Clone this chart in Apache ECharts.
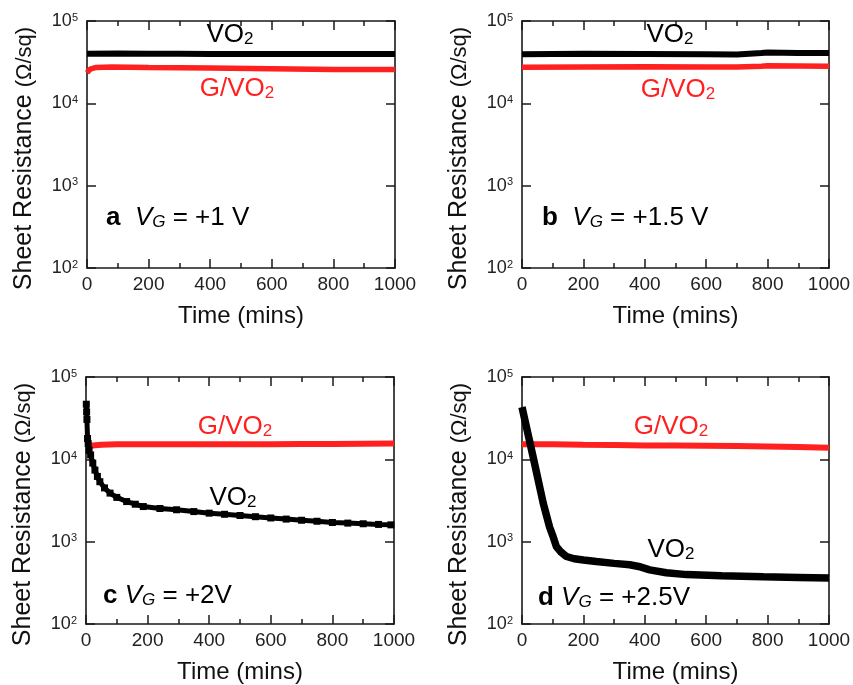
<!DOCTYPE html>
<html><head><meta charset="utf-8">
<script src="https://cdn.jsdelivr.net/npm/echarts@6/dist/echarts.min.js"></script>
<style>html,body{margin:0;padding:0;background:#fff}#c{width:853px;height:685px}</style>
</head><body><div id="c"></div>
<script>
// ---- data (time in mins, sheet resistance in ohm/sq) ----
const aVO2  = [[0,40000],[100,40200],[200,40000],[300,40000],[400,39800],[500,39800],[600,39800],[700,39800],[800,39800],[900,39800],[1000,39800]];
const aGVO2 = [[0,23500],[10,26000],[30,27300],[80,27700],[200,27300],[400,26800],[600,26300],[800,25800],[1000,25700]];
const bVO2  = [[0,39500],[200,40000],[400,39800],[600,39500],[700,39300],[780,40800],[800,41500],[900,41000],[1000,40800]];
const bGVO2 = [[0,27500],[200,27700],[400,27800],[600,27600],[700,27600],[780,28300],[800,28600],[900,28400],[1000,28200]];
const cVO2  = [[1,46700],[2,37700],[3,30500],[5,17900],[7,15600],[10,12900],[15,11300],[22,9000],[29,7400],[37,6200],[45,5350],[60,4500],[78,3890],[100,3450],[132,3070],[160,2850],[186,2670],[240,2530],[294,2440],[350,2320],[400,2220],[450,2150],[500,2080],[550,2010],[600,1940],[650,1880],[700,1820],[750,1770],[800,1710],[850,1680],[900,1650],[950,1620],[990,1600]];
const cGVO2 = [[2,14500],[50,15000],[100,15200],[200,15300],[300,15200],[400,15200],[500,15300],[600,15300],[700,15400],[800,15400],[900,15500],[1000,15600]];
const dVO2  = [[0,43000],[3,41000],[36,10800],[69,2950],[90,1500],[101,1160],[112,870],[125,760],[145,660],[170,620],[200,600],[242,575],[300,545],[351,525],[380,500],[416,455],[470,420],[536,398],[650,385],[786,374],[900,368],[1000,363]];
const dGVO2 = [[0,15300],[100,15200],[200,15000],[300,14900],[400,14700],[500,14700],[600,14600],[700,14500],[800,14300],[900,14100],[1000,13800]];

const timeMin = 0, timeMax = 1000, timeStep = 200;
const resMin = 100, resMax = 100000;
const panelLetters = ['a','b','c','d'];
const panelVoltages = ['= +1 V','= +1.5 V','= +2V','= +2.5V'];
const panelGaps = ['  ','  ',' ',' '];

const FF = '"Liberation Sans", Arial, Helvetica, sans-serif';
const AX = '#1a1a1a';
const RED = '#ff2020';

const grids = [
  {left:87, top:21, right:458, bottom:417},
  {left:522, top:21, right:24, bottom:417},
  {left:86, top:377, right:459, bottom:61},
  {left:522, top:377, right:24, bottom:61}
];

const xAxes = [], yAxes = [];
grids.forEach((g,i)=>{
  const base = {
    gridIndex:i, type:'value', min:timeMin, max:timeMax, interval:timeStep,
    axisLine:{show:true, onZero:false, lineStyle:{color:AX, width:1.6}},
    axisTick:{show:true, inside:true, length:9, lineStyle:{color:AX, width:1.5}},
    minorTick:{show:true, splitNumber:2, length:5, lineStyle:{color:AX, width:1.5}},
    splitLine:{show:false}, minorSplitLine:{show:false}
  };
  xAxes.push(Object.assign({}, base, {
    position:'bottom',
    axisLabel:{show:true, margin:7, fontSize:19, color:'#222', fontFamily:FF, showMaxLabel:true, showMinLabel:true,
      formatter: v => String(v)},
    name:'Time (mins)', nameLocation:'middle', nameGap:36,
    nameTextStyle:{fontSize:24, color:'#111', fontFamily:FF}
  }));
  xAxes.push(Object.assign({}, base, {position:'top', axisLabel:{show:false}}));
  const ybase = {
    gridIndex:i, type:'log', logBase:10, min:resMin, max:resMax,
    axisLine:{show:true, onZero:false, lineStyle:{color:AX, width:1.6}},
    axisTick:{show:true, inside:true, length:9, lineStyle:{color:AX, width:1.5}},
    minorTick:{show:false}, splitLine:{show:false}
  };
  yAxes.push(Object.assign({}, ybase, {
    position:'left',
    axisLabel:{show:true, margin:9, color:'#222', fontFamily:FF,
      formatter: v => '{b|10}{s|' + Math.round(Math.log10(v)) + '}',
      rich:{b:{fontSize:18, fontFamily:FF, color:'#222'}, s:{fontSize:11, fontFamily:FF, color:'#222', verticalAlign:'top', padding:[0,0,6,0]}}
    },
    name:'{m|Sheet Resistance }{p|(Ω/sq)}', nameLocation:'middle', nameGap:50,
    nameTextStyle:{color:'#111', fontFamily:FF, padding:[0,28,0,0],
      rich:{m:{fontSize:25, fontFamily:FF, color:'#111'}, p:{fontSize:22, fontFamily:FF, color:'#111'}}}
  }));
  yAxes.push(Object.assign({}, ybase, {position:'right', axisLabel:{show:false}}));
});

function lineSeries(i, data, color, width, extra){
  return Object.assign({
    type:'line', xAxisIndex:i*2, yAxisIndex:i*2, data:data,
    showSymbol:false, symbol:'none', smooth:false, animation:false,
    lineStyle:{color:color, width:width}, itemStyle:{color:color}, z:3
  }, extra||{});
}

const series = [
  lineSeries(0, aVO2, '#000', 6),
  lineSeries(0, aGVO2, RED, 5.5),
  lineSeries(1, bVO2, '#000', 6),
  lineSeries(1, bGVO2, RED, 5.5),
  lineSeries(2, cGVO2, RED, 6),
  lineSeries(2, cVO2, '#000', 5, {showSymbol:true, symbol:'rect', symbolSize:7, showAllSymbol:true}),
  lineSeries(3, dGVO2, RED, 6),
  lineSeries(3, dVO2, '#000', 7.5)
];

const richVO = {
  n:{fontSize:26, fontFamily:FF, fill:'#000'},
  s:{fontSize:17, fontFamily:FF, fill:'#000', verticalAlign:'bottom'}
};
const richG = {
  n:{fontSize:26, fontFamily:FF, fill:RED},
  s:{fontSize:17, fontFamily:FF, fill:RED, verticalAlign:'bottom'}
};
const richV = {
  l:{fontSize:26, fontFamily:FF, fontWeight:'bold', fill:'#000'},
  v:{fontSize:26, fontFamily:FF, fontStyle:'italic', fill:'#000'},
  g:{fontSize:17, fontFamily:FF, fontStyle:'italic', fill:'#000', verticalAlign:'bottom'},
  t:{fontSize:26, fontFamily:FF, fill:'#000'}
};
function txt(x, y, text, rich, align, fill){
  return {type:'text', x:x, y:y, z:10, style:{text:text, rich:rich, fill:fill||'#000', align:align||'center', verticalAlign:'middle'}};
}
const vgLabel = i => '{l|' + panelLetters[i] + '}{t|' + panelGaps[i] + '}{v|V}{g|G}{t| ' + panelVoltages[i] + '}';

const graphic = [
  txt(230, 35, '{n|VO}{s|2}', richVO),
  txt(237, 89, '{n|G/VO}{s|2}', richG, 'center', RED),
  txt(106, 218, vgLabel(0), richV, 'left'),
  txt(670, 35, '{n|VO}{s|2}', richVO),
  txt(678, 90, '{n|G/VO}{s|2}', richG, 'center', RED),
  txt(542, 218, vgLabel(1), richV, 'left'),
  txt(235, 427, '{n|G/VO}{s|2}', richG, 'center', RED),
  txt(233, 498, '{n|VO}{s|2}', richVO),
  txt(103, 596, vgLabel(2), richV, 'left'),
  txt(671, 427, '{n|G/VO}{s|2}', richG, 'center', RED),
  txt(671, 550, '{n|VO}{s|2}', richVO),
  txt(538, 598, vgLabel(3), richV, 'left')
];

const chart = echarts.init(document.getElementById('c'), null, {renderer:'canvas'});
chart.setOption({
  backgroundColor:'#fff',
  animation:false,
  grid: grids.map(g => Object.assign({containLabel:false, outerBoundsMode:'none'}, g)),
  xAxis: xAxes,
  yAxis: yAxes,
  series: series,
  graphic: graphic
});
</script>
</body></html>
